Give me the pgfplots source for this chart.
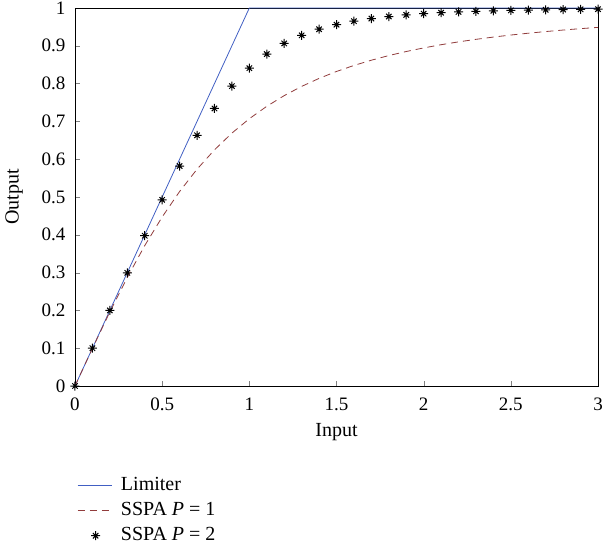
\documentclass[border=0pt]{standalone}
\usepackage{fontspec}
\setmainfont{Liberation Serif}
\usepackage{pgfplots}
\pgfplotsset{compat=1.18}
\definecolor{limblue}{RGB}{65,95,195}
\definecolor{sspared}{RGB}{145,60,60}
\pgfdeclareplotmark{star8}{%
  \pgfpathmoveto{\pgfqpoint{-\pgfplotmarksize}{0pt}}\pgfpathlineto{\pgfqpoint{\pgfplotmarksize}{0pt}}%
  \pgfpathmoveto{\pgfqpoint{0pt}{-\pgfplotmarksize}}\pgfpathlineto{\pgfqpoint{0pt}{\pgfplotmarksize}}%
  \pgfpathmoveto{\pgfqpoint{-0.6\pgfplotmarksize}{-0.6\pgfplotmarksize}}\pgfpathlineto{\pgfqpoint{0.6\pgfplotmarksize}{0.6\pgfplotmarksize}}%
  \pgfpathmoveto{\pgfqpoint{-0.6\pgfplotmarksize}{0.6\pgfplotmarksize}}\pgfpathlineto{\pgfqpoint{0.6\pgfplotmarksize}{-0.6\pgfplotmarksize}}%
  \pgfusepathqstroke
  \pgfpathcircle{\pgfpointorigin}{0.3\pgfplotmarksize}\pgfusepathqfill}
\pgfplotsset{
  longline/.style={legend image code/.code={\draw[##1] (0cm,0cm) -- (34pt,0cm);}},
  starlegend/.style={legend image code/.code={\draw[##1] plot coordinates {(18pt,0cm)};}}
}
\begin{document}
\begin{tikzpicture}
\begin{axis}[
  name=ax,
  scale only axis,
  width=523pt, height=378pt,
  xmin=0, xmax=3, ymin=0, ymax=1,
  xtick={0,0.5,...,3}, ytick={0,0.1,...,1},
  tick align=inside,
  xtick pos=bottom, ytick pos=left,
  major tick length=5pt,
  /pgf/number format/assume math mode=true,
  /pgf/number format/fixed,
  tick label style={font=\fontsize{19}{21}\selectfont},
  xticklabel style={yshift=-8pt},
  yticklabel style={xshift=-6pt},
  label style={font=\fontsize{20}{22}\selectfont},
  xlabel={Input}, ylabel={Output},
  xlabel style={yshift=-6pt},
  ylabel style={yshift=12pt},
  legend style={at={(axis description cs:0,0)}, anchor=north west, yshift=-87pt, xshift=2pt, draw=none, fill=none, font=\fontsize{20}{22}\selectfont, row sep=0pt, inner sep=0pt,
    nodes={inner sep=2pt, text height=15pt, text depth=6pt}},
  legend cell align=left,
  legend style={/tikz/every odd column/.append style={column sep=7pt}},
  clip=false,
]
\addplot[limblue, line width=0.8pt, longline] coordinates {(0,0) (1,1) (3,1)};
\addlegendentry{Limiter}
\addplot[sspared, dash pattern=on 7pt off 5pt, line width=0.8pt, longline] coordinates {
(0,0) (0.1,0.0995) (0.2,0.1961) (0.3,0.2873) (0.4,0.3714) (0.5,0.4472) (0.6,0.5145) (0.7,0.5735) (0.8,0.6247) (0.9,0.6690) (1.0,0.7071) (1.1,0.7399) (1.2,0.7682) (1.3,0.7926) (1.4,0.8137) (1.5,0.8321) (1.6,0.8480) (1.7,0.8619) (1.8,0.8742) (1.9,0.8849) (2.0,0.8944) (2.1,0.9029) (2.2,0.9104) (2.3,0.9171) (2.4,0.9231) (2.5,0.9285) (2.6,0.9333) (2.7,0.9377) (2.8,0.9417) (2.9,0.9454) (3.0,0.9487)};
\addlegendentry{SSPA \textit{P} = 1}
\addplot[black, only marks, mark=star8, mark size=4.5pt, line width=1pt, starlegend] coordinates {
(0,0) (0.1,0.1000) (0.2,0.1999) (0.3,0.2994) (0.4,0.3975) (0.5,0.4925) (0.6,0.5820) (0.7,0.6633) (0.8,0.7342) (0.9,0.7934) (1.0,0.8409) (1.1,0.8780) (1.2,0.9063) (1.3,0.9277) (1.4,0.9438) (1.5,0.9559) (1.6,0.9651) (1.7,0.9721) (1.8,0.9775) (1.9,0.9818) (2.0,0.9850) (2.1,0.9875) (2.2,0.9896) (2.3,0.9913) (2.4,0.9926) (2.5,0.9937) (2.6,0.9946) (2.7,0.9953) (2.8,0.9960) (2.9,0.9965) (3.0,0.9969)};
\addlegendentry{SSPA \textit{P} = 2}
\end{axis}
\pgfresetboundingbox
\path (ax.south west) ++(-75pt,-166pt) coordinate (bbA);
\path (ax.north east) ++(5pt,8pt) coordinate (bbB);
\useasboundingbox (bbA) rectangle (bbB);
\end{tikzpicture}
\end{document}
